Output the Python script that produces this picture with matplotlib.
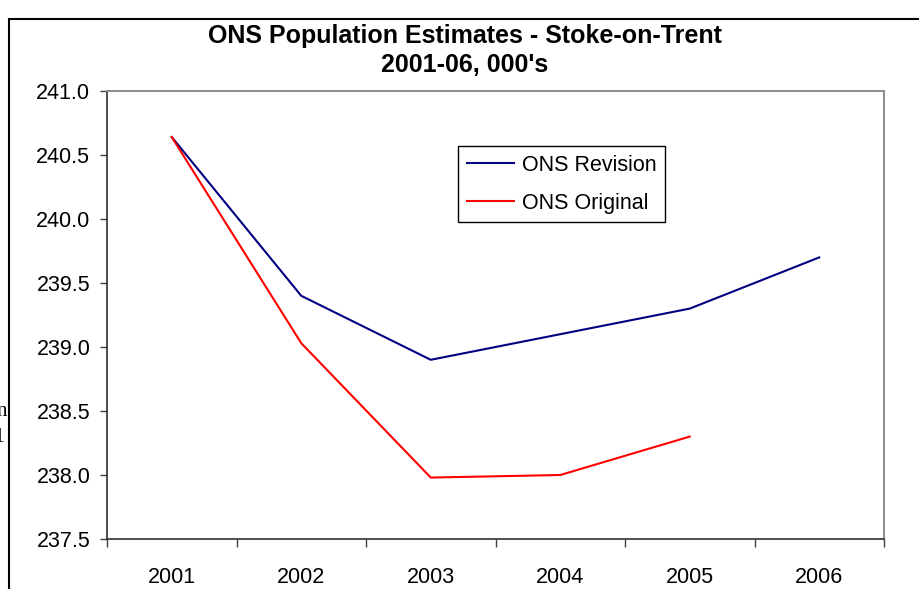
import matplotlib.pyplot as plt
import matplotlib.patches as mpatches

years = ["2001", "2002", "2003", "2004", "2005", "2006"]
ons_revision = [240.64, 239.40, 238.90, 239.10, 239.30, 239.70]
ons_original = [240.64, 239.03, 237.98, 238.00, 238.30]
y_ticks = [237.5, 238.0, 238.5, 239.0, 239.5, 240.0, 240.5, 241.0]

plt.rcParams['font.family'] = ['Liberation Sans', 'DejaVu Sans']

W, H = 919, 589
fig = plt.figure(figsize=(W / 100, H / 100), dpi=100)

# outer chart border (runs off the right and bottom edges)
fig.patches.append(mpatches.Rectangle((9 / W, -0.1), 1.2, 1.1 - 19 / H,
                                      transform=fig.transFigure, fill=False,
                                      edgecolor='black', linewidth=1.5))

ax = fig.add_axes([107 / W, 50 / H, 777 / W, 448 / H])
x = list(range(len(years)))
ax.plot(x, ons_revision, color='#000080', linewidth=1.5, label="ONS Revision")
ax.plot(x[:len(ons_original)], ons_original, color='#ff0000', linewidth=1.5,
        label="ONS Original")

ax.set_xlim(-0.5, len(years) - 0.5)
ax.set_ylim(237.5, 241.0)
ax.set_yticks(y_ticks)
ax.set_yticklabels(["%.1f" % v for v in y_ticks])
ax.set_xticks([i - 0.5 for i in range(len(years) + 1)])
ax.set_xticklabels([])
ax.set_xticks(x, minor=True)
ax.set_xticklabels(years, minor=True)
ax.tick_params(axis='x', which='major', direction='out', length=6, width=1,
               color='#404040')
ax.tick_params(axis='x', which='minor', length=0, pad=20, labelsize=15.5)
ax.tick_params(axis='y', direction='out', length=5, width=1, color='#404040',
               labelsize=15.5, pad=7)

for s in ['top', 'right']:
    ax.spines[s].set_color('#909090')
    ax.spines[s].set_linewidth(1.5)
for s in ['left', 'bottom']:
    ax.spines[s].set_color('#303030')
    ax.spines[s].set_linewidth(1.2)

leg = ax.legend(loc='upper left', bbox_to_anchor=(458 / W, 1 - 146 / H),
                bbox_transform=fig.transFigure, borderaxespad=0, fontsize=15.5,
                fancybox=False, edgecolor='black', framealpha=1,
                handlelength=2.2, handletextpad=0.35, labelspacing=0.8,
                borderpad=0.4)
leg.get_frame().set_linewidth(1.0)

fig.text(465 / W, 1 - 36 / H, "ONS Population Estimates - Stoke-on-Trent",
         ha='center', va='center', fontsize=18, fontweight='bold')
fig.text(465 / W, 1 - 65 / H, "2001-06, 000's",
         ha='center', va='center', fontsize=18, fontweight='bold')

# clipped text fragments at the left edge
fig.text(7 / W, 1 - 411 / H, "n", ha='right', va='center', fontsize=15,
         family='Liberation Serif')
fig.text(5 / W, 1 - 437 / H, "01", ha='right', va='center', fontsize=15,
         family='Liberation Serif')

fig.savefig('out.png', dpi=100)
